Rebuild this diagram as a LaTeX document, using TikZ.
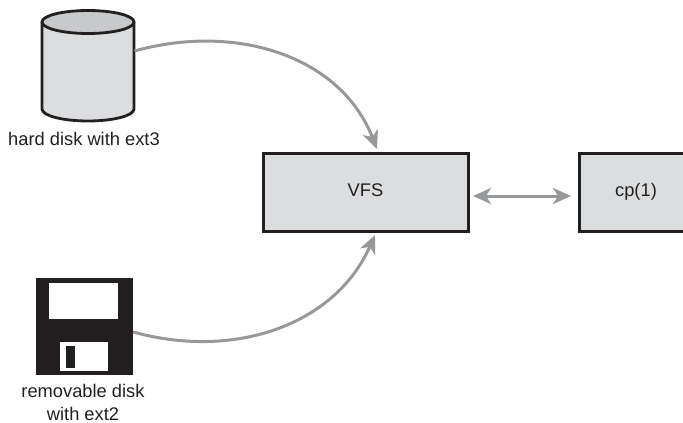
\documentclass[tikz,border=0pt]{standalone}
\usepackage{fontspec}
\setmainfont{Liberation Sans}
\usetikzlibrary{arrows.meta}
\definecolor{ink}{HTML}{231F20}
\definecolor{boxfill}{HTML}{DCDDDE}
\definecolor{topfill}{HTML}{C8C9CA}
\definecolor{flow}{HTML}{97989A}
\tikzset{
  x=1pt,y=-1pt,
  boxnode/.style={draw=ink,line width=3pt,fill=boxfill,inner sep=0pt,text=ink},
  lab/.style={text=ink,font=\fontsize{18.3}{22.5}\selectfont,align=center,inner sep=0pt},
  flowline/.style={draw=flow,line width=3pt,-{Stealth[length=18pt,width=16pt,inset=5pt]}},
  flowboth/.style={draw=flow,line width=3pt,{Stealth[length=18pt,width=16pt,inset=5pt]}-{Stealth[length=18pt,width=16pt,inset=5pt]}},
  cyl/.style={draw=ink,line width=2.8pt,line join=round}
}
\begin{document}
\begin{tikzpicture}
\useasboundingbox (0,0) rectangle (683,423);
% hard disk
\path[cyl,fill=boxfill] (42,22) -- (42,109) arc[start angle=180,end angle=0,x radius=46,y radius=12] -- (134,22) -- cycle;
\path[cyl,fill=topfill] (88,22) ellipse[x radius=46,y radius=11.5];
\coordinate (hd) at (134.5,51);
\node[lab] (hdl) at (84,139) {hard disk with ext3};
% floppy
\node[fill=ink,minimum width=97pt,minimum height=97pt,inner sep=0pt] (fd) at (84.5,326.5) {};
\node[fill=white,minimum width=69pt,minimum height=36pt,inner sep=0pt] (fdw) at (83.5,301) {};
\node[fill=white,minimum width=48pt,minimum height=29pt,inner sep=0pt] (fds) at (84,356.5) {};
\node[fill=ink,minimum width=9pt,minimum height=22pt,inner sep=0pt] (fdn) at (70.5,357) {};
\coordinate (fdo) at (133,332);
\node[lab] (fdl) at (83,402.3) {removable disk\\with ext2};
% boxes
\node[boxnode,minimum width=205pt,minimum height=78pt] (vfs) at (365.5,192) {};
\node[lab] (vfst) at (365.5,190.5) {VFS};
\node[boxnode,minimum width=110pt,minimum height=78pt] (cp) at (634,192) {};
\node[lab] (cpt) at (636,191.5) {cp(1)};
% endpoints
\coordinate (va) at (377,149);
\coordinate (vb) at (375,235);
\coordinate (vc) at (473,196);
\coordinate (cc) at (571,196);
\draw[flowline] (hd) .. controls (235,23) and (340,55) .. (va);
\draw[flowline] (fdo) .. controls (235,360) and (335,325) .. (vb);
\draw[flowboth] (vc) -- (cc);
\end{tikzpicture}
\end{document}
